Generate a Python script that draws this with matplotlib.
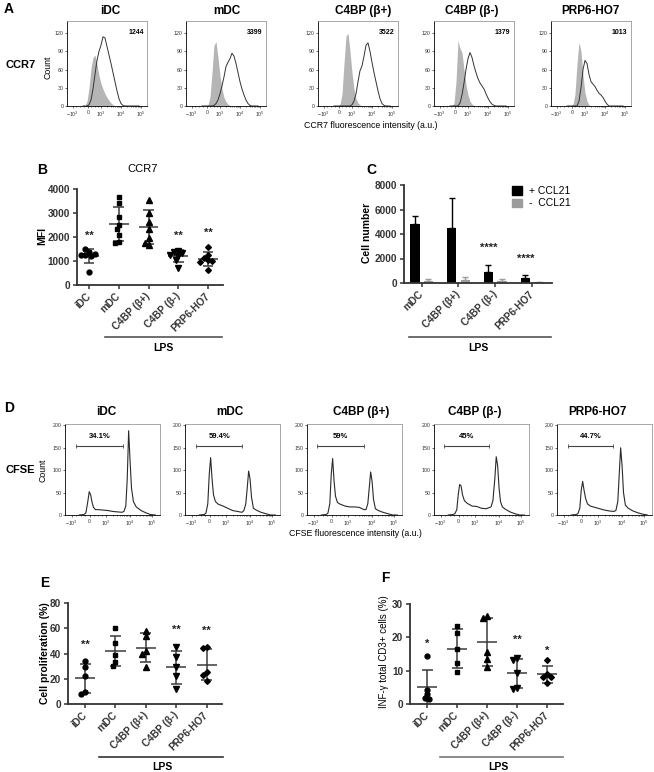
import numpy as np
import matplotlib
matplotlib.use('Agg')
import matplotlib.pyplot as plt
from matplotlib.patches import Patch
from matplotlib.lines import Line2D

plt.rcParams['font.family'] = ['Liberation Sans', 'DejaVu Sans']
plt.rcParams['mathtext.default'] = 'regular'

W, H = 654, 772

# ------------------------------------------------------------------ data
groups = ['iDC', 'mDC', 'C4BP (β+)', 'C4BP (β-)', 'PRP6-HO7']

# Panel A: CCR7 histograms (channel position 0..1, counts)
uA = [0.200, 0.225, 0.250, 0.275, 0.300, 0.325, 0.350, 0.375, 0.400, 0.425,
      0.450, 0.475, 0.500, 0.525, 0.550, 0.575, 0.600, 0.625, 0.650, 0.675,
      0.700, 0.725, 0.750, 0.775, 0.800, 0.825, 0.850, 0.875, 0.900]
A_iso = [
    [0, 0, 8, 30, 62, 80, 84, 68, 50, 37, 28, 20, 14, 9, 5, 2, 0, 0, 0, 0, 0, 0, 0, 0, 0, 0, 0, 0, 0],
    [0, 0, 0, 2, 15, 55, 100, 106, 80, 50, 28, 14, 7, 3, 1, 0, 0, 0, 0, 0, 0, 0, 0, 0, 0, 0, 0, 0, 0],
    [0, 0, 0, 3, 20, 70, 115, 120, 90, 55, 28, 12, 5, 2, 0, 0, 0, 0, 0, 0, 0, 0, 0, 0, 0, 0, 0, 0, 0],
    [0, 0, 5, 40, 108, 95, 88, 60, 35, 18, 8, 3, 1, 0, 0, 0, 0, 0, 0, 0, 0, 0, 0, 0, 0, 0, 0, 0, 0],
    [0, 0, 0, 3, 20, 70, 105, 90, 50, 22, 8, 2, 0, 0, 0, 0, 0, 0, 0, 0, 0, 0, 0, 0, 0, 0, 0, 0, 0],
]
A_ccr7 = [
    [0, 0, 0, 2, 10, 28, 52, 75, 90, 100, 114, 112, 98, 84, 70, 55, 40, 25, 12, 4, 1, 0, 0, 0, 0, 0, 0, 0, 0],
    [0, 0, 0, 0, 0, 0, 1, 4, 10, 20, 33, 48, 65, 72, 78, 87, 82, 70, 55, 40, 28, 18, 10, 4, 1, 0, 0, 0, 0],
    [0, 0, 0, 0, 0, 0, 0, 0, 0, 2, 8, 20, 40, 58, 66, 82, 100, 104, 90, 72, 55, 40, 25, 12, 4, 1, 0, 0, 0],
    [0, 0, 0, 0, 0, 5, 18, 38, 60, 78, 88, 80, 66, 55, 45, 38, 33, 28, 20, 13, 7, 3, 1, 0, 0, 0, 0, 0, 0],
    [0, 0, 0, 0, 0, 0, 8, 30, 60, 75, 70, 52, 40, 36, 32, 26, 21, 18, 14, 8, 3, 0, 0, 0, 0, 0, 0, 0, 0],
]
A_mfi = ['1244', '3399', '3522', '1379', '1013']

# Panel B: CCR7 MFI
B_values = [
    [1360, 1480, 1250, 1200, 1300, 1250, 560],
    [3650, 3430, 2850, 2500, 2350, 2080, 1800, 1750],
    [3540, 3010, 2640, 2320, 1950, 1670, 1740],
    [1400, 1380, 1350, 1250, 1200, 1050, 700],
    [1570, 1250, 1110, 1040, 1000, 970, 640],
]
B_stars = ['**', '', '', '**', '**']
B_star_y = [2050, 0, 0, 2030, 2170]

# Panel C: migrated cell number
C_groups = ['mDC', 'C4BP (β+)', 'C4BP (β-)', 'PRP6-HO7']
C_plus = [4830, 4480, 870, 410]
C_plus_sd = [650, 2440, 620, 270]
C_minus = [190, 220, 140, 60]
C_minus_sd = [135, 270, 190, 20]
C_stars = ['', '', '****', '****']
C_star_y = [0, 0, 2850, 1950]

# Panel D: CFSE histograms
uD = [0.15, 0.20, 0.22, 0.24, 0.255, 0.27, 0.285, 0.30, 0.32, 0.35, 0.40, 0.45,
      0.50, 0.55, 0.60, 0.62, 0.64, 0.655, 0.67, 0.685, 0.70, 0.72, 0.75, 0.80,
      0.85, 0.90, 0.95]
D_cfse = [
    [0, 1, 5, 30, 52, 45, 28, 17, 12, 12, 11, 10, 8, 7, 6, 8, 20, 80, 188, 120, 60, 30, 18, 10, 5, 1, 0],
    [0, 1, 4, 25, 90, 128, 80, 45, 30, 24, 20, 15, 10, 8, 6, 10, 25, 60, 98, 80, 40, 15, 11, 6, 3, 0, 0],
    [0, 1, 4, 25, 90, 126, 75, 42, 28, 24, 20, 18, 18, 17, 12, 12, 25, 60, 96, 75, 35, 14, 10, 6, 3, 0, 0],
    [0, 1, 3, 12, 45, 68, 65, 45, 32, 26, 20, 19, 15, 14, 18, 32, 80, 130, 110, 60, 30, 18, 13, 7, 3, 0, 0],
    [0, 1, 3, 15, 55, 75, 55, 38, 25, 20, 17, 14, 11, 9, 8, 10, 30, 90, 150, 110, 50, 22, 15, 9, 5, 2, 0],
]
D_gate_start = [0.12, 0.12, 0.11, 0.11, 0.12]
D_gate_end = [0.61, 0.60, 0.60, 0.58, 0.59]
D_gate_level = 153
D_gate_labels = ['34.1%', '59.4%', '59%', '45%', '44.7%']

# Panel E: cell proliferation (%)
E_values = [
    [34, 29, 22, 9.5, 8],
    [60, 48, 39, 33, 30],
    [58, 54, 42, 40, 29],
    [45, 37, 29, 22, 12],
    [45, 44, 25, 23, 18.5],
]
E_stars = ['**', '', '', '**', '**']
E_star_y = [47, 0, 0, 59, 58]

# Panel F: IFN-gamma+ CD3+ cells (%)
F_values = [
    [14.4, 4.1, 2.9, 1.8, 1.6],
    [23.5, 21.2, 16.6, 12.2, 9.6],
    [26.5, 25.8, 15.5, 13.5, 11.0],
    [13.8, 13.3, 9.3, 4.9, 4.5],
    [13.2, 9.0, 8.2, 8.2, 6.3],
]
F_stars = ['*', '', '', '**', '*']
F_star_y = [18.0, 0, 0, 19.3, 16.0]

markers = ['o', 's', '^', 'v', 'D']
msizes = [3.5, 3.3, 3.7, 3.7, 2.9]

# ------------------------------------------------------------------ helpers
fig = plt.figure(figsize=(W / 100, H / 100), dpi=100)


def px_axes(l, t, r, b):
    return fig.add_axes([l / W, 1 - b / H, (r - l) / W, (b - t) / H])


def ftext(x, y, s, **kw):
    fig.text(x / W, 1 - y / H, s, **kw)


def fline(x0, x1, y, **kw):
    fig.add_artist(Line2D([x0 / W, x1 / W], [1 - y / H, 1 - y / H],
                          transform=fig.transFigure, **kw))


hist_ticks = [0.07, 0.26, 0.43, 0.68, 0.92]
hist_ticklabels = ['$-10^3$', '0', '$10^3$', '$10^4$', '$10^5$']


def style_hist(ax, ymax, yticks):
    ax.set_xlim(0, 1)
    ax.set_ylim(0, ymax)
    ax.set_xticks(hist_ticks)
    ax.set_xticklabels(hist_ticklabels, fontsize=3.8)
    minor = []
    for a, b in [(hist_ticks[2], hist_ticks[3]), (hist_ticks[3], hist_ticks[4])]:
        for k in range(2, 10):
            minor.append(a + (b - a) * np.log10(k))
    minor += [hist_ticks[0] + (hist_ticks[1] - hist_ticks[0]) * f for f in (0.25, 0.5, 0.75)]
    minor += [hist_ticks[1] + (hist_ticks[2] - hist_ticks[1]) * f for f in (0.25, 0.5, 0.75)]
    ax.set_xticks(minor, minor=True)
    ax.set_yticks(yticks)
    ax.set_yticklabels([str(v) for v in yticks], fontsize=3.8)
    ax.tick_params(length=1.6, width=0.5, pad=1, colors='#333333')
    ax.tick_params(which='minor', length=1.0, width=0.4)
    for s in ax.spines.values():
        s.set_linewidth(0.6)
    ax.spines['top'].set_color('#9a9a9a')
    ax.spines['right'].set_color('#9a9a9a')


def swarm_offsets(vals, ax_h_px, yrange, unit_px, d_px=4.0):
    ypx = np.asarray(vals, dtype=float) / yrange * ax_h_px
    placed = []
    offs = []
    cands = [0.0]
    for j in range(1, 12):
        cands += [-j * d_px * 0.5, j * d_px * 0.5]
    for yv in ypx:
        chosen = cands[-1]
        for c in cands:
            if all((c - px) ** 2 + (yv - py) ** 2 >= d_px ** 2 for px, py in placed):
                chosen = c
                break
        placed.append((chosen, yv))
        offs.append(chosen / unit_px)
    return np.array(offs)


def style_prism(ax, labels, ymax, yticks, xlim):
    ax.set_xlim(*xlim)
    ax.set_ylim(0, ymax)
    for s in ['top', 'right']:
        ax.spines[s].set_visible(False)
    for s in ['left', 'bottom']:
        ax.spines[s].set_linewidth(1.3)
        ax.spines[s].set_color('#333333')
    ax.set_yticks(yticks)
    ax.set_yticklabels([str(v) for v in yticks], fontsize=7.2, fontweight='bold')
    ax.set_xticks(range(len(labels)))
    ax.set_xticklabels(labels, rotation=45, ha='right', va='center',
                       rotation_mode='anchor', fontsize=7.2, fontweight='bold')
    ax.tick_params(axis='both', length=3, width=1.1, colors='#333333', pad=2)
    ax.tick_params(axis='x', pad=4)


def scatter_panel(ax, values, ymax, ax_w_px, ax_h_px, xlim, stars, star_y, star_fs):
    unit_px = ax_w_px / (xlim[1] - xlim[0])
    for i, vals in enumerate(values):
        vals = np.asarray(vals, dtype=float)
        offs = swarm_offsets(vals, ax_h_px, ymax, unit_px)
        m = vals.mean()
        sd = vals.std(ddof=1)
        lc = '#3a3a3a'
        ax.hlines(m, i - 0.33, i + 0.33, color=lc, lw=1.1, zorder=2)
        ax.vlines(i, m - sd, m + sd, color=lc, lw=1.1, zorder=2)
        ax.hlines([m - sd, m + sd], i - 0.18, i + 0.18, color=lc, lw=1.1, zorder=2)
        ax.plot(i + offs, vals, linestyle='none', marker=markers[i], ms=msizes[i],
                color='black', zorder=3, clip_on=False)
        if stars[i]:
            ax.text(i, star_y[i], stars[i], ha='center', va='center',
                    fontsize=star_fs, fontweight='bold', color='#222222')


# ------------------------------------------------------------------ Panel A
ftext(4, 9, 'A', fontsize=10, fontweight='bold', va='center')
ftext(5, 65, 'CCR7', fontsize=8, fontweight='bold', va='center')
ftext(48, 67, 'Count', fontsize=6.3, rotation=90, ha='center', va='center')
A_lefts = [67, 186, 318, 434, 551]
A_title_x = [110, 227, 363, 472, 590]
for i in range(5):
    l = A_lefts[i]
    ax = px_axes(l, 21, l + 80, 106)
    ax.fill_between(uA, 0, A_iso[i], color='#b5b5b5', lw=0)
    ax.plot(uA, A_ccr7[i], color='#333333', lw=0.7)
    style_hist(ax, 140, [0, 30, 60, 90, 120])
    ax.text(0.86, 0.86, A_mfi[i], transform=ax.transAxes, ha='center', va='center',
            fontsize=5, fontweight='bold')
    ftext(A_title_x[i], 11, groups[i], fontsize=8.5, fontweight='bold', ha='center', va='center')
ftext(371, 125, 'CCR7 fluorescence intensity (a.u.)', fontsize=6.3, ha='center', va='center')

# ------------------------------------------------------------------ Panel B
ftext(37, 170, 'B', fontsize=10, fontweight='bold', va='center')
axB = px_axes(77, 189, 223, 285)
B_xlim = (-0.4, 4.5)
style_prism(axB, groups, 4000, [0, 1000, 2000, 3000, 4000], B_xlim)
scatter_panel(axB, B_values, 4000, 146, 96, B_xlim, B_stars, B_star_y, 8)
ftext(143, 169, 'CCR7', fontsize=8, ha='center', va='center')
ftext(42, 236, 'MFI', fontsize=7.5, fontweight='bold', rotation=90, ha='center', va='center')
fline(105, 222, 337, color='#555555', lw=1.2)
ftext(163, 348, 'LPS', fontsize=7.5, fontweight='bold', ha='center', va='center')

# ------------------------------------------------------------------ Panel C
ftext(366, 170, 'C', fontsize=10, fontweight='bold', va='center')
axC = px_axes(404, 185, 552, 283)
C_xlim = (-0.48, 3.54)
style_prism(axC, C_groups, 8000, [0, 2000, 4000, 6000, 8000], C_xlim)
xc = np.arange(len(C_groups))
bw = 0.26
axC.bar(xc - 0.185, C_plus, width=bw, color='black', zorder=2)
axC.bar(xc + 0.185, C_minus, width=bw, color='#9c9c9c', zorder=2)
axC.errorbar(xc - 0.185, C_plus, yerr=[np.zeros(4), C_plus_sd], fmt='none',
             ecolor='black', elinewidth=1.0, capsize=2.5, capthick=1.0, zorder=1)
axC.errorbar(xc + 0.185, C_minus, yerr=[np.zeros(4), C_minus_sd], fmt='none',
             ecolor='#9c9c9c', elinewidth=1.0, capsize=2.5, capthick=1.0, zorder=1)
for i, s in enumerate(C_stars):
    if s:
        axC.text(i - 0.185, C_star_y[i], s, ha='center', va='center', fontsize=8,
                 fontweight='bold', color='#222222')
axC.legend(handles=[Patch(color='black'), Patch(color='#9c9c9c')],
           labels=['+ CCL21', '-  CCL21'], loc='upper left', bbox_to_anchor=(0.68, 1.06),
           frameon=False, fontsize=7.5, handlelength=1.0, handleheight=0.9,
           handletextpad=0.6, labelspacing=0.2, borderpad=0.2)
ftext(367, 233, 'Cell number', fontsize=7.5, fontweight='bold', rotation=90, ha='center', va='center')
fline(409, 551, 337, color='#555555', lw=1.2)
ftext(478, 348, 'LPS', fontsize=7.5, fontweight='bold', ha='center', va='center')

# ------------------------------------------------------------------ Panel D
ftext(4, 408, 'D', fontsize=10, fontweight='bold', va='center')
ftext(5, 470, 'CFSE', fontsize=8, fontweight='bold', va='center')
ftext(43, 470, 'Count', fontsize=6.3, rotation=90, ha='center', va='center')
D_lefts = [65, 185, 307, 434, 557]
D_title_x = [106, 230, 361, 475, 597]
for i in range(5):
    l = D_lefts[i]
    ax = px_axes(l, 424, l + 95, 515)
    ax.plot(uD, D_cfse[i], color='#2a2a2a', lw=0.8)
    style_hist(ax, 203, [0, 50, 100, 150, 200])
    ax.errorbar([(D_gate_start[i] + D_gate_end[i]) / 2], [D_gate_level],
                xerr=[[(D_gate_end[i] - D_gate_start[i]) / 2]], fmt='none',
                ecolor='#444444', elinewidth=0.8, capsize=1.5, capthick=0.6)
    ax.text((D_gate_start[i] + D_gate_end[i]) / 2, D_gate_level + 14, D_gate_labels[i],
            ha='center', va='bottom', fontsize=5.5, fontweight='bold')
    ftext(D_title_x[i], 412, groups[i], fontsize=8.5, fontweight='bold', ha='center', va='center')
ftext(355, 534, 'CFSE fluorescence intensity (a.u.)', fontsize=6.3, ha='center', va='center')

# ------------------------------------------------------------------ Panel E
ftext(40, 583, 'E', fontsize=10, fontweight='bold', va='center')
axE = px_axes(68, 603, 222, 704)
E_xlim = (-0.56, 4.5)
style_prism(axE, groups, 80, [0, 20, 40, 60, 80], E_xlim)
scatter_panel(axE, E_values, 80, 154, 101, E_xlim, E_stars, E_star_y, 8)
ftext(45, 653, 'Cell proliferation (%)', fontsize=7.5, fontweight='bold', rotation=90, ha='center', va='center')
fline(99, 223, 757, color='#333333', lw=1.2)
ftext(162, 767, 'LPS', fontsize=7.5, fontweight='bold', ha='center', va='center')

# ------------------------------------------------------------------ Panel F
ftext(381, 578, 'F', fontsize=10, fontweight='bold', va='center')
axF = px_axes(410, 604, 563, 704)
F_xlim = (-0.57, 4.53)
style_prism(axF, groups, 30, [0, 10, 20, 30], F_xlim)
scatter_panel(axF, F_values, 30, 153, 100, F_xlim, F_stars, F_star_y, 8)
ftext(384, 652, 'INF-γ total CD3+ cells (%)', fontsize=7, rotation=90, ha='center', va='center')
fline(440, 563, 757, color='#777777', lw=1.2)
ftext(498, 767, 'LPS', fontsize=7.5, fontweight='bold', ha='center', va='center')

fig.savefig('out.png', dpi=100)
